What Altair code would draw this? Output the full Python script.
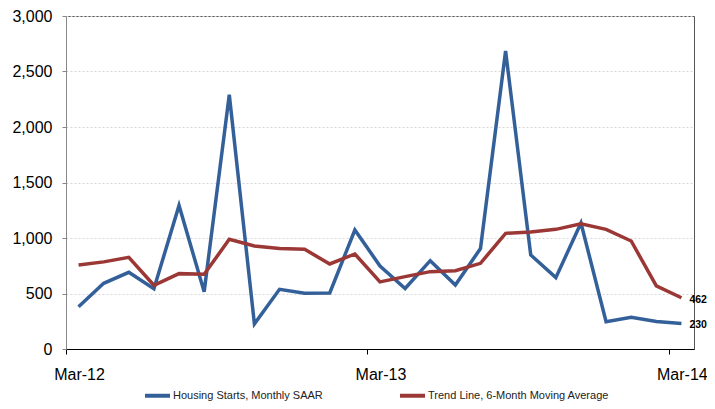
import json
import altair as alt
import pandas as pd

months = ["Mar-12", "Apr-12", "May-12", "Jun-12", "Jul-12", "Aug-12", "Sep-12",
          "Oct-12", "Nov-12", "Dec-12", "Jan-13", "Feb-13", "Mar-13", "Apr-13",
          "May-13", "Jun-13", "Jul-13", "Aug-13", "Sep-13", "Oct-13", "Nov-13",
          "Dec-13", "Jan-14", "Feb-14", "Mar-14"]
starts = [381, 592, 691, 543, 1293, 516, 2290, 226, 538, 502, 505, 1072, 748,
          545, 796, 577, 905, 2685, 847, 643, 1135, 246, 285, 248, 230]
trend = [757, 785, 826, 574, 679, 673, 988, 928, 906, 898, 766, 856, 605,
         652, 697, 705, 772, 1042, 1054, 1078, 1128, 1078, 973, 568, 462]
series_names = ["Housing Starts, Monthly SAAR", "Trend Line, 6-Month Moving Average"]
colors = ["#34609a", "#9b3836"]
tick_labels = ["Mar-12", "Mar-13", "Mar-14"]
y_ticks = [0, 500, 1000, 1500, 2000, 2500, 3000]

tick_pos = [months.index(t) for t in tick_labels]

rows = []
for i, m in enumerate(months):
    rows.append({"pos": i + 0.5, "month": m, "value": starts[i], "series": series_names[0]})
    rows.append({"pos": i + 0.5, "month": m, "value": trend[i], "series": series_names[1]})
df = pd.DataFrame(rows)

last = pd.DataFrame([
    {"pos": len(months) - 0.5, "value": starts[-1], "label": str(starts[-1])},
    {"pos": len(months) - 0.5, "value": trend[-1], "label": str(trend[-1])},
])

label_expr = "%s[indexof(%s, datum.value)]" % (json.dumps(tick_labels), json.dumps(tick_pos))

x_enc = alt.X(
    "pos:Q",
    scale=alt.Scale(domain=[0, len(months)], nice=False, zero=False),
    axis=alt.Axis(values=tick_pos, labelExpr=label_expr, grid=False, tickSize=5,
                  labelOffset=13, labelPadding=12, domainColor="black", tickColor="black",
                  labelFontSize=16, labelColor="black", title=None, labelFlush=False,
                  labelOverlap=False, labelAlign="center"),
)
y_enc = alt.Y(
    "value:Q",
    scale=alt.Scale(domain=[0, 3000], nice=False),
    axis=alt.Axis(values=y_ticks, format=",.0f", grid=True, gridDash=[2, 2],
                  gridColor="#d6d6d6", tickSize=4, labelPadding=10, domainColor="#888888",
                  tickColor="#888888", labelFontSize=16, labelColor="black", title=None),
)

lines = alt.Chart(df).mark_line(strokeWidth=3.5).encode(
    x=x_enc,
    y=y_enc,
    color=alt.Color(
        "series:N",
        scale=alt.Scale(domain=series_names, range=colors),
        legend=alt.Legend(orient="none", legendX=77, legendY=365, direction="horizontal",
                          title=None, symbolType="stroke", symbolSize=625,
                          symbolStrokeWidth=4, labelFontSize=11, labelColor="#222222",
                          labelOffset=1, columnPadding=69, labelLimit=400),
    ),
    detail="series:N",
)

labels = alt.Chart(last).mark_text(align="left", baseline="middle", dx=8, dy=2,
                                   fontWeight="bold", fontSize=10.5, color="black").encode(
    x="pos:Q", y="value:Q", text="label:N"
)

chart = alt.layer(lines, labels).properties(
    width=628,
    height=333,
    autosize=alt.AutoSizeParams(type="none"),
    padding={"left": 58, "top": 8, "right": 13, "bottom": 52},
).configure(
    font="Liberation Sans",
).configure_view(
    stroke="#555555", strokeWidth=1
)

chart.save("out.html", embed_options={"renderer": "svg", "actions": False})
